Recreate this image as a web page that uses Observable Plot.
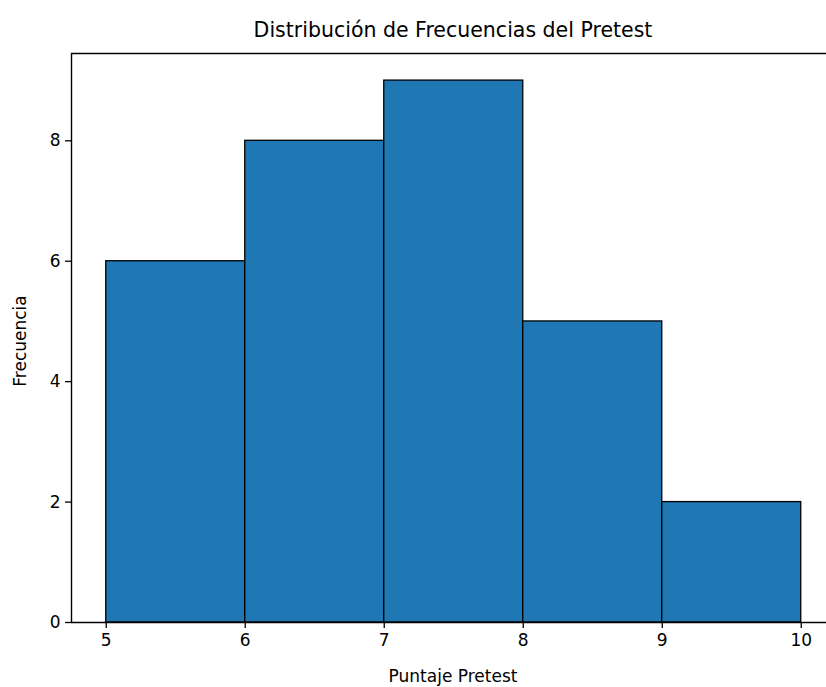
<!DOCTYPE html>
<html>
<head>
<meta charset="utf-8">
<script src="https://cdn.jsdelivr.net/npm/d3@7"></script>
<script src="https://cdn.jsdelivr.net/npm/@observablehq/plot@0.6"></script>
<style>
  html, body { margin: 0; padding: 0; background: #fff; overflow: hidden; width: 826px; height: 687px; }
  #wrap { position: relative; width: 826px; height: 687px; overflow: hidden; font-family: "DejaVu Sans", sans-serif; color: #000; }
  #wrap svg { position: absolute; left: 0; top: 0; max-width: none !important; }
  .lbl { position: absolute; white-space: nowrap; font-family: "DejaVu Sans", sans-serif; }
</style>
</head>
<body>
<div id="wrap"></div>
<script>
const binStarts = [5, 6, 7, 8, 9];
const binEnds = [6, 7, 8, 9, 10];
const counts = [6, 8, 9, 5, 2];
const xTicks = [5, 6, 7, 8, 9, 10];
const yTicks = [0, 2, 4, 6, 8];
const title = "Distribución de Frecuencias del Pretest";
const xLabel = "Puntaje Pretest";
const yLabel = "Frecuencia";

const bins = binStarts.map((s, i) => ({x1: s, x2: binEnds[i], y: counts[i]}));

// plot area spans past the right edge of the picture, as in the reference
const W = 826, H = 687;
const mL = 71, mR = 0, mT = 53, mB = H - 622;
const xDomain = [4.75, 4.75 + (826 - 71) / 139];
const yDomain = [0, 9.45];
const fmt = d => String(d);

const chart = Plot.plot({
  width: W,
  height: H,
  marginLeft: mL,
  marginRight: mR,
  marginTop: mT,
  marginBottom: mB,
  style: {fontFamily: "DejaVu Sans, sans-serif", fontSize: "17px", color: "#000", background: "transparent", maxWidth: "none"},
  x: {domain: xDomain, label: null},
  y: {domain: yDomain, label: null},
  marks: [
    Plot.rectY(bins, {x1: "x1", x2: "x2", y: "y", fill: "#1f77b4", stroke: "#000", strokeWidth: 1.3}),
    Plot.ruleX([xDomain[0]], {stroke: "#000", strokeWidth: 1.4}),
    Plot.ruleY(yDomain, {stroke: "#000", strokeWidth: 1.4}),
    Plot.axisX({ticks: xTicks, tickFormat: fmt, tickSize: 6, tickPadding: 5, stroke: "#000", strokeWidth: 1.3, fontSize: 17, label: null}),
    Plot.axisY({ticks: yTicks, tickFormat: fmt, tickSize: 6, tickPadding: 5, stroke: "#000", strokeWidth: 1.3, fontSize: 17, label: null})
  ]
});

const wrap = document.getElementById("wrap");
wrap.appendChild(chart);

function addLabel(text, css) {
  const d = document.createElement("div");
  d.className = "lbl";
  d.textContent = text;
  Object.assign(d.style, css);
  wrap.appendChild(d);
  return d;
}
addLabel(title, {left: "453px", top: "30px", fontSize: "20.5px", transform: "translate(-50%, -50%)"});
addLabel(xLabel, {left: "453px", top: "676px", fontSize: "17px", transform: "translate(-50%, -50%)"});
addLabel(yLabel, {left: "20px", top: "341px", fontSize: "17px", transform: "translate(-50%, -50%) rotate(-90deg)"});
</script>
</body>
</html>
